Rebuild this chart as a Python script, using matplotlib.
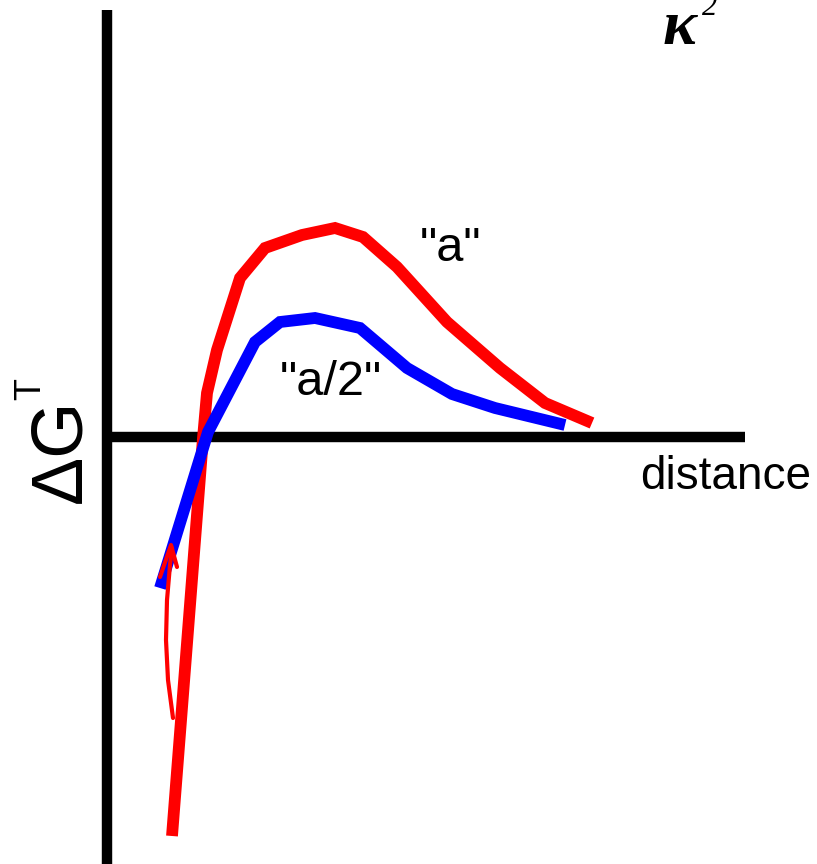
import matplotlib.pyplot as plt

# free-energy curves for the two barrier widths (arbitrary units)
red_x = [0.65, 0.96, 1.00, 1.10, 1.33, 1.58, 1.95, 2.28, 2.56, 2.90, 3.40, 3.93, 4.38, 4.85]
red_y = [-3.99, -0.01, 0.44, 0.87, 1.59, 1.89, 2.02, 2.09, 2.00, 1.70, 1.15, 0.69, 0.34, 0.14]

blue_x = [0.53, 1.01, 1.48, 1.73, 2.08, 2.53, 3.00, 3.45, 3.88, 4.58]
blue_y = [-1.51, 0.05, 0.95, 1.15, 1.19, 1.09, 0.69, 0.43, 0.29, 0.12]

# hand-drawn arrow from the red curve up to the blue one
arrow_x = [0.66, 0.61, 0.59, 0.60, 0.63, 0.65]
arrow_y = [-2.81, -2.43, -2.03, -1.63, -1.28, -1.11]
head_x = [0.53, 0.64, 0.70]
head_y = [-1.40, -1.08, -1.30]

fig = plt.figure(figsize=(8.17, 8.64), dpi=100)
ax = fig.add_axes([0, 0, 1, 1])
ax.set_xlim(-1.07, 7.10)
ax.set_ylim(-4.27, 4.37)
ax.axis("off")

# axes drawn as thick black bars
ax.plot([0, 0], [-4.30, 4.27], color="black", lw=7.5, solid_capstyle="butt")
ax.plot([0, 6.38], [0, 0], color="black", lw=7.5, solid_capstyle="butt")

ax.plot(red_x, red_y, color="#ff0000", lw=8.5, solid_capstyle="butt", solid_joinstyle="miter")
ax.plot(blue_x, blue_y, color="#0000ff", lw=8.5, solid_capstyle="butt", solid_joinstyle="miter")

ax.plot(arrow_x, arrow_y, color="#ff0000", lw=3, solid_capstyle="round")
ax.plot(head_x, head_y, color="#ff0000", lw=3, solid_capstyle="round", solid_joinstyle="round")

sans = "Liberation Sans"
ax.text(3.44, 1.89, '"a"', fontsize=35, family=sans, ha="center", va="center")
ax.text(2.24, 0.55, '"a/2"', fontsize=35, family=sans, ha="center", va="center")
ax.text(6.19, -0.40, "distance", fontsize=33, family=sans, ha="center", va="center")

ax.text(-0.45, -0.14, "\u0394G", fontsize=52, family=sans, rotation=90,
        ha="center", va="center")
ax.text(-0.76, 0.48, "T", fontsize=26, family=sans, rotation=90,
        ha="center", va="center")

ax.text(5.73, 4.08, "\u03ba", fontsize=46, family="Liberation Serif",
        style="italic", weight="bold", ha="center", va="center")
ax.text(5.95, 4.30, "2", fontsize=22, family="Liberation Serif",
        style="italic", ha="left", va="center")

fig.savefig("out.png", dpi=100)
